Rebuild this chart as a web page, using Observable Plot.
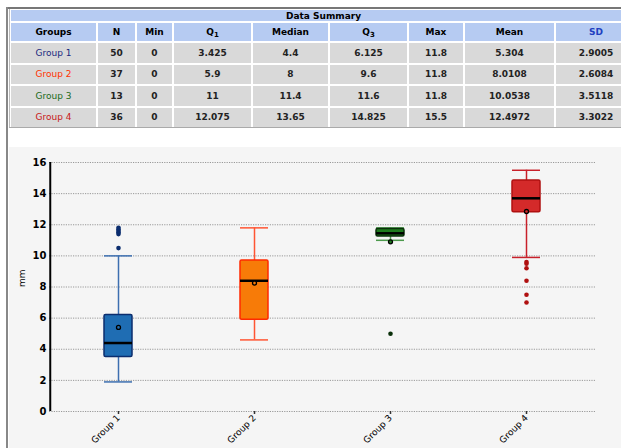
<!DOCTYPE html>
<html><head><meta charset="utf-8">
<script src="https://cdn.jsdelivr.net/npm/d3@7"></script>
<script src="https://cdn.jsdelivr.net/npm/@observablehq/plot@0.6"></script>
<style>
body{margin:0;background:#fff;width:621px;height:448px;overflow:hidden;position:relative;font-family:"DejaVu Sans",sans-serif;}
#frameTop{position:absolute;left:6px;top:7px;width:620px;height:2px;background:#777;}
#frameLeft{position:absolute;left:6px;top:7px;width:2px;height:441px;background:#888;}
#frameLeft2{position:absolute;left:9px;top:9px;width:1px;height:119px;background:#bbb;}
#tableBottom{position:absolute;left:9px;top:127px;width:620px;height:1px;background:#aaa;}
table{position:absolute;left:9px;top:8px;border-collapse:separate;border-spacing:2px;table-layout:fixed;width:618px;font-size:9px;}
td,th{padding:0;text-align:center;white-space:nowrap;overflow:hidden;line-height:10px;}
th.title{background:#b6cbf2;height:11px;font-size:9px;}
th.h{background:#b6cbf2;height:18px;}
td{background:#d9d9d9;height:19.5px;font-weight:bold;color:#222;}
td.g{font-weight:normal;}
sub{font-size:7px;vertical-align:-2px;line-height:0;}
#chart{position:absolute;left:9px;top:147px;width:612px;height:301px;background:#f5f5f5;}
</style></head>
<body>
<div id="frameTop"></div><div id="frameLeft"></div><div id="frameLeft2"></div>
<table id="tbl"></table>
<div id="tableBottom"></div>
<div id="chart"></div>
<script>
// Summary table values
const groups = ["Group 1", "Group 2", "Group 3", "Group 4"];
const tableN = ["50", "37", "13", "36"];
const tableMin = ["0", "0", "0", "0"];
const tableQ1 = ["3.425", "5.9", "11", "12.075"];
const tableMedian = ["4.4", "8", "11.4", "13.65"];
const tableQ3 = ["6.125", "9.6", "11.6", "14.825"];
const tableMax = ["11.8", "11.8", "11.8", "15.5"];
const tableMean = ["5.304", "8.0108", "10.0538", "12.4972"];
const tableSD = ["2.9005", "2.6084", "3.5118", "3.3022"];

// Box plot values as drawn
const boxQ1 = [3.5, 5.9, 11.25, 12.8];
const boxMedian = [4.4, 8.4, 11.45, 13.7];
const boxQ3 = [6.2, 9.7, 11.72, 14.85];
const whiskerLow = [1.9, 4.6, 11.0, 9.9];
const whiskerHigh = [10.0, 11.8, 11.8, 15.5];
const boxMean = [5.4, 8.25, 10.9, 12.85];
const outlierGroups = ["Group 1","Group 1","Group 1","Group 1","Group 1","Group 1","Group 3","Group 4","Group 4","Group 4","Group 4","Group 4","Group 4"];
const outlierValues = [10.5, 11.4, 11.5, 11.6, 11.7, 11.8, 5.0, 9.6, 9.5, 9.2, 8.4, 7.5, 7.0];
const yTicks = [0, 2, 4, 6, 8, 10, 12, 14, 16];

const groupText = ["#1a2a80", "#ff3300", "#1a6a1a", "#c81818"];
const fillC = ["#1f6db3", "#f77b08", "#1e7b1e", "#d42a2a"];
const strokeC = ["#0b2d6e", "#ff2a00", "#0b300b", "#b01010"];
const whiskC = ["#3d6fb0", "#ff5533", "#4d9a4d", "#c8202a"];
const outC = ["#0b2d6e", "#ff2a00", "#0a300a", "#b01010"];

// Table
const tbl = document.getElementById("tbl");
const widths = [85, 37, 35, 77, 75, 77, 54, 89, 80];
let html = "<colgroup>" + widths.map(w => `<col style="width:${w}px">`).join("") + "</colgroup>";
html += `<tr><th class="title" colspan="9">Data Summary</th></tr>`;
const heads = ["Groups", "N", "Min", "Q<sub>1</sub>", "Median", "Q<sub>3</sub>", "Max", "Mean", "<span style='color:#2040c0'>SD</span>"];
html += "<tr>" + heads.map(h => `<th class="h">${h}</th>`).join("") + "</tr>";
groups.forEach((g, i) => {
  html += `<tr><td class="g" style="color:${groupText[i]}">${g}</td><td>${tableN[i]}</td><td>${tableMin[i]}</td><td>${tableQ1[i]}</td><td>${tableMedian[i]}</td><td>${tableQ3[i]}</td><td>${tableMax[i]}</td><td>${tableMean[i]}</td><td>${tableSD[i]}</td></tr>`;
});
tbl.innerHTML = html;

const boxes = groups.map((g, i) => ({g, i, q1: boxQ1[i], med: boxMedian[i], q3: boxQ3[i], lo: whiskerLow[i], hi: whiskerHigh[i], mean: boxMean[i]}));
const outliers = outlierGroups.map((g, k) => ({g, v: outlierValues[k], i: groups.indexOf(g)}));
const inset = 54;
const plotW = 612, mL = 40, mR = 26;
const halfBand = (plotW - mL - mR) / groups.length / 2;

const plot = Plot.plot({
  width: plotW, height: 301,
  marginLeft: mL, marginRight: mR, marginTop: 15, marginBottom: 37,
  style: {background: "transparent", fontFamily: "DejaVu Sans, sans-serif", fontSize: "9px", color: "#000"},
  x: {domain: groups, padding: 0, label: null},
  y: {domain: [0, 16], label: null},
  marks: [
    Plot.gridY(yTicks, {stroke: "#999", strokeOpacity: 1, strokeDasharray: "1.2,1.2"}),
    Plot.ruleX(boxes, {x: "g", y1: "lo", y2: "hi", stroke: d => whiskC[d.i], strokeWidth: 1.5}),
    Plot.tickY(boxes, {x: "g", y: "lo", stroke: d => whiskC[d.i], strokeWidth: 1.5, insetLeft: inset, insetRight: inset}),
    Plot.tickY(boxes, {x: "g", y: "hi", stroke: d => whiskC[d.i], strokeWidth: 1.5, insetLeft: inset, insetRight: inset}),
    Plot.barY(boxes, {x: "g", y1: "q1", y2: "q3", fill: d => fillC[d.i], stroke: d => strokeC[d.i], strokeWidth: 1.5, insetLeft: inset, insetRight: inset, rx: 1.5}),
    Plot.tickY(boxes, {x: "g", y: "med", stroke: "#000", strokeWidth: 2.5, insetLeft: inset, insetRight: inset}),
    Plot.dot(outliers, {x: "g", y: "v", r: 2.3, fill: d => outC[d.i], stroke: "none"}),
    Plot.dot(boxes, {x: "g", y: "mean", r: 2, fill: d => fillC[d.i], stroke: "#000", strokeWidth: 1.3}),
    Plot.axisY({ticks: yTicks, tickSize: 0, tickPadding: 3, fontWeight: "bold", fontSize: 10, label: null}),
    Plot.text(["mm"], {frameAnchor: "left", dx: -27, rotate: -90, text: d => d, fontSize: 9}),
    Plot.ruleX([groups[0]], {x: d => d, y1: 0, y2: 16, dx: -halfBand, stroke: "#000", strokeWidth: 2}),
    Plot.axisX({tickSize: 3, tickRotate: -45, tickPadding: 2, label: null, stroke: "#333", strokeWidth: 1.5})
  ]
});
document.getElementById("chart").appendChild(plot);
</script>
</body></html>
